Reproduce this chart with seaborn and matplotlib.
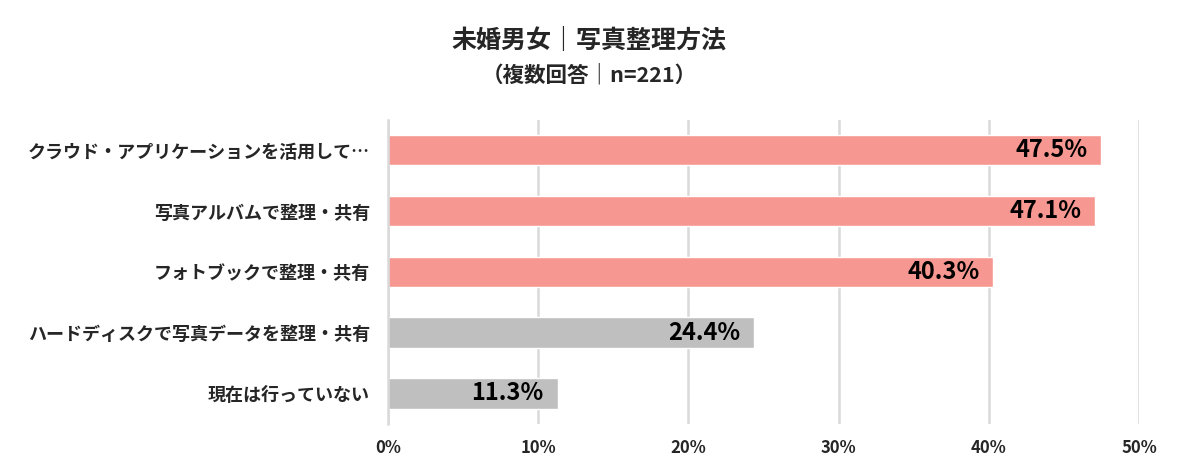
import pandas as pd
import numpy as np
import matplotlib.pyplot as plt
import seaborn as sns

sns.set_theme(style="white")
plt.rcParams['font.family'] = ['Noto Sans CJK JP', 'DejaVu Sans']

# Data
categories = [
    "クラウド・アプリケーションを活用して…",
    "写真アルバムで整理・共有",
    "フォトブックで整理・共有",
    "ハードディスクで写真データを整理・共有",
    "現在は行っていない",
]
values = [47.5, 47.1, 40.3, 24.4, 11.3]
bar_colors = ["#F69891", "#F69891", "#F69891", "#BFBFBF", "#BFBFBF"]
x_ticks = [0, 10, 20, 30, 40, 50]

df = pd.DataFrame({"category": categories, "value": values})

fig = plt.figure(figsize=(11.79, 4.72), dpi=100)
ax = fig.add_axes([0.329, 0.102, 0.637, 0.644])

sns.barplot(data=df, x="value", y="category", hue="category",
            palette=bar_colors, legend=False, width=0.5, saturation=1,
            orient="h", ax=ax)

ax.set_xlim(0, 50)
ax.set_ylim(4.5, -0.5)
ax.set_xticks(x_ticks)
ax.set_xticklabels([f"{t}%" for t in x_ticks], fontsize=12, fontweight="bold")
ax.tick_params(axis="x", length=0, pad=11)
ax.tick_params(axis="y", length=0, pad=13)
for lbl in ax.get_yticklabels():
    lbl.set_fontsize(13)
    lbl.set_fontweight("bold")
ax.set_xlabel("")
ax.set_ylabel("")

ax.grid(axis="x", color="#D9D9D9", linewidth=1.8)
ax.set_axisbelow(True)
for s in ["top", "right", "bottom"]:
    ax.spines[s].set_visible(False)
ax.spines["left"].set_color("#D9D9D9")
ax.spines["left"].set_linewidth(1.8)

# value labels
for i, v in enumerate(values):
    ax.annotate(f"{v}%", xy=(v, i), xytext=(-10, 0), textcoords="offset points",
                ha="right", va="center", fontsize=17, fontweight="bold",
                color="black")

fig.text(0.5, 0.915, "未婚男女｜写真整理方法", ha="center", va="center",
         fontsize=18, fontweight="bold")
fig.text(0.5, 0.842, "（複数回答｜n=221）", ha="center", va="center",
         fontsize=15.5, fontweight="bold")

fig.savefig("out.png", dpi=100)
